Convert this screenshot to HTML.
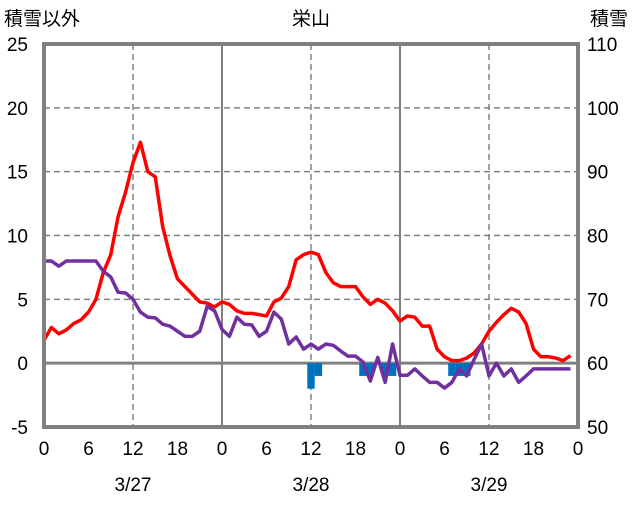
<!DOCTYPE html>
<html><head><meta charset="utf-8"><style>
body{margin:0;background:#fff;}
svg text{font-family:"Liberation Sans","Noto Sans CJK JP",sans-serif;fill:#000;}
</style></head><body>
<svg id="chart" width="636" height="501" xmlns="http://www.w3.org/2000/svg">
<rect width="636" height="501" fill="#fff"/>
<g id="grid"></g><g id="bars"></g><g id="lines"></g><g id="labels"></g>
<text x="4" y="25" font-size="19">積雪以外</text>
<text x="311" y="25" font-size="19" text-anchor="middle">栄山</text>
<text x="590" y="25" font-size="19">積雪</text>
</svg>
<script>
const leftTicks=[-5,0,5,10,15,20,25];
const rightTicks=[50,60,70,80,90,100,110];
const hourLabels=["0","6","12","18","0","6","12","18","0","6","12","18","0"];
const dates=["3/27","3/28","3/29"];
const temp=[1.8,2.8,2.3,2.6,3.1,3.4,4.0,5.0,7.1,8.5,11.5,13.4,15.7,17.3,15.0,14.6,10.7,8.4,6.6,6.0,5.4,4.8,4.7,4.4,4.8,4.6,4.1,3.9,3.9,3.8,3.7,4.8,5.1,6.0,8.1,8.5,8.7,8.5,7.1,6.3,6.0,6.0,6.0,5.2,4.6,5.0,4.7,4.1,3.3,3.7,3.6,2.9,2.9,1.1,0.5,0.2,0.2,0.4,0.8,1.5,2.5,3.2,3.8,4.3,4.0,3.1,1.1,0.5,0.5,0.4,0.2,0.6];
const snowDepth=[76,76,75.2,76,76,76,76,76,74.4,73.5,71.1,71.0,70.0,68.0,67.2,67.1,66.1,65.8,65.0,64.2,64.2,65.0,68.9,68.2,65.3,64.2,67.2,66.1,66.0,64.2,65.0,68.0,66.9,63.0,64.1,62.2,63.0,62.2,63.0,62.8,61.9,61.1,61.1,60.2,57.2,60.9,57.0,63.0,58.1,58.1,59.1,58.0,57.0,57.0,56.1,57.0,59.1,58.0,60.6,63.0,58.0,60.0,58.0,59.1,57.0,58.0,59.1,59.1,59.1,59.1,59.1,59.1];
const barHours=[36,37,43,44,46,47,55,56,57];
const barValues=[-2.0,-1.0,-1.0,-1.0,-1.0,-1.0,-1.0,-1.0,-1.0];
const X0=44,X1=578,Y0=427,Y1=44;
const xs=h=>X0+(X1-X0)*h/72;
const yl=v=>Y0-(v+5)/30*(Y0-Y1);
const yr=v=>Y0-(v-50)/60*(Y0-Y1);
const NS="http://www.w3.org/2000/svg";
function mk(p,t,a){const e=document.createElementNS(NS,t);for(const k in a)e.setAttribute(k,a[k]);document.getElementById(p).appendChild(e);return e;}
// horizontal grid
[5,10,15,20].forEach(v=>{const e=mk('grid','line',{x1:X0,x2:X1,y1:yl(v),y2:yl(v),stroke:'#808080','stroke-width':1.5,'stroke-dasharray':'6,4'});

});
[12,36,60].forEach(h=>{const e=mk('grid','line',{x1:xs(h),x2:xs(h),y1:Y1,y2:Y0,stroke:'#808080','stroke-width':1.5,'stroke-dasharray':'6,4'});

});
[24,48].forEach(h=>{const e=mk('grid','line',{x1:xs(h),x2:xs(h),y1:Y1,y2:Y0,stroke:'#808080','stroke-width':2});

});
// bars
const bw=(X1-X0)/72;
barHours.forEach((h,i)=>{const v=barValues[i];const r=mk('bars','rect',{x:xs(h)-bw/2,y:yl(0),width:bw,height:yl(v)-yl(0),fill:'#0070c0'});

});
const zl=mk('grid','line',{x1:X0,x2:X1,y1:yl(0),y2:yl(0),stroke:'#808080','stroke-width':3});


// lines
const p1=mk('lines','polyline',{points:temp.map((v,i)=>xs(i)+','+yl(v)).join(' '),fill:'none',stroke:'#ff0000','stroke-width':3.5,'stroke-linejoin':'round'});


const p2=mk('lines','polyline',{points:snowDepth.map((v,i)=>xs(i)+','+yr(v)).join(' '),fill:'none',stroke:'#7030a0','stroke-width':3.5,'stroke-linejoin':'round'});


const fr=mk('lines','rect',{x:X0,y:Y1,width:X1-X0,height:Y0-Y1,fill:'none',stroke:'#808080','stroke-width':4});


// labels
leftTicks.forEach(v=>{const t=mk('labels','text',{x:28,y:yl(v)+7,'font-size':19,'text-anchor':'end'});t.textContent=v;

});
rightTicks.forEach(v=>{const t=mk('labels','text',{x:587,y:yr(v)+7,'font-size':19});t.textContent=v;

});
hourLabels.forEach((s,i)=>{const t=mk('labels','text',{x:xs(i*6),y:455,'font-size':19,'text-anchor':'middle'});t.textContent=s;

});
dates.forEach((s,i)=>{const t=mk('labels','text',{x:xs(12+24*i),y:491,'font-size':19,'text-anchor':'middle'});t.textContent=s;

});
</script>
</body></html>
